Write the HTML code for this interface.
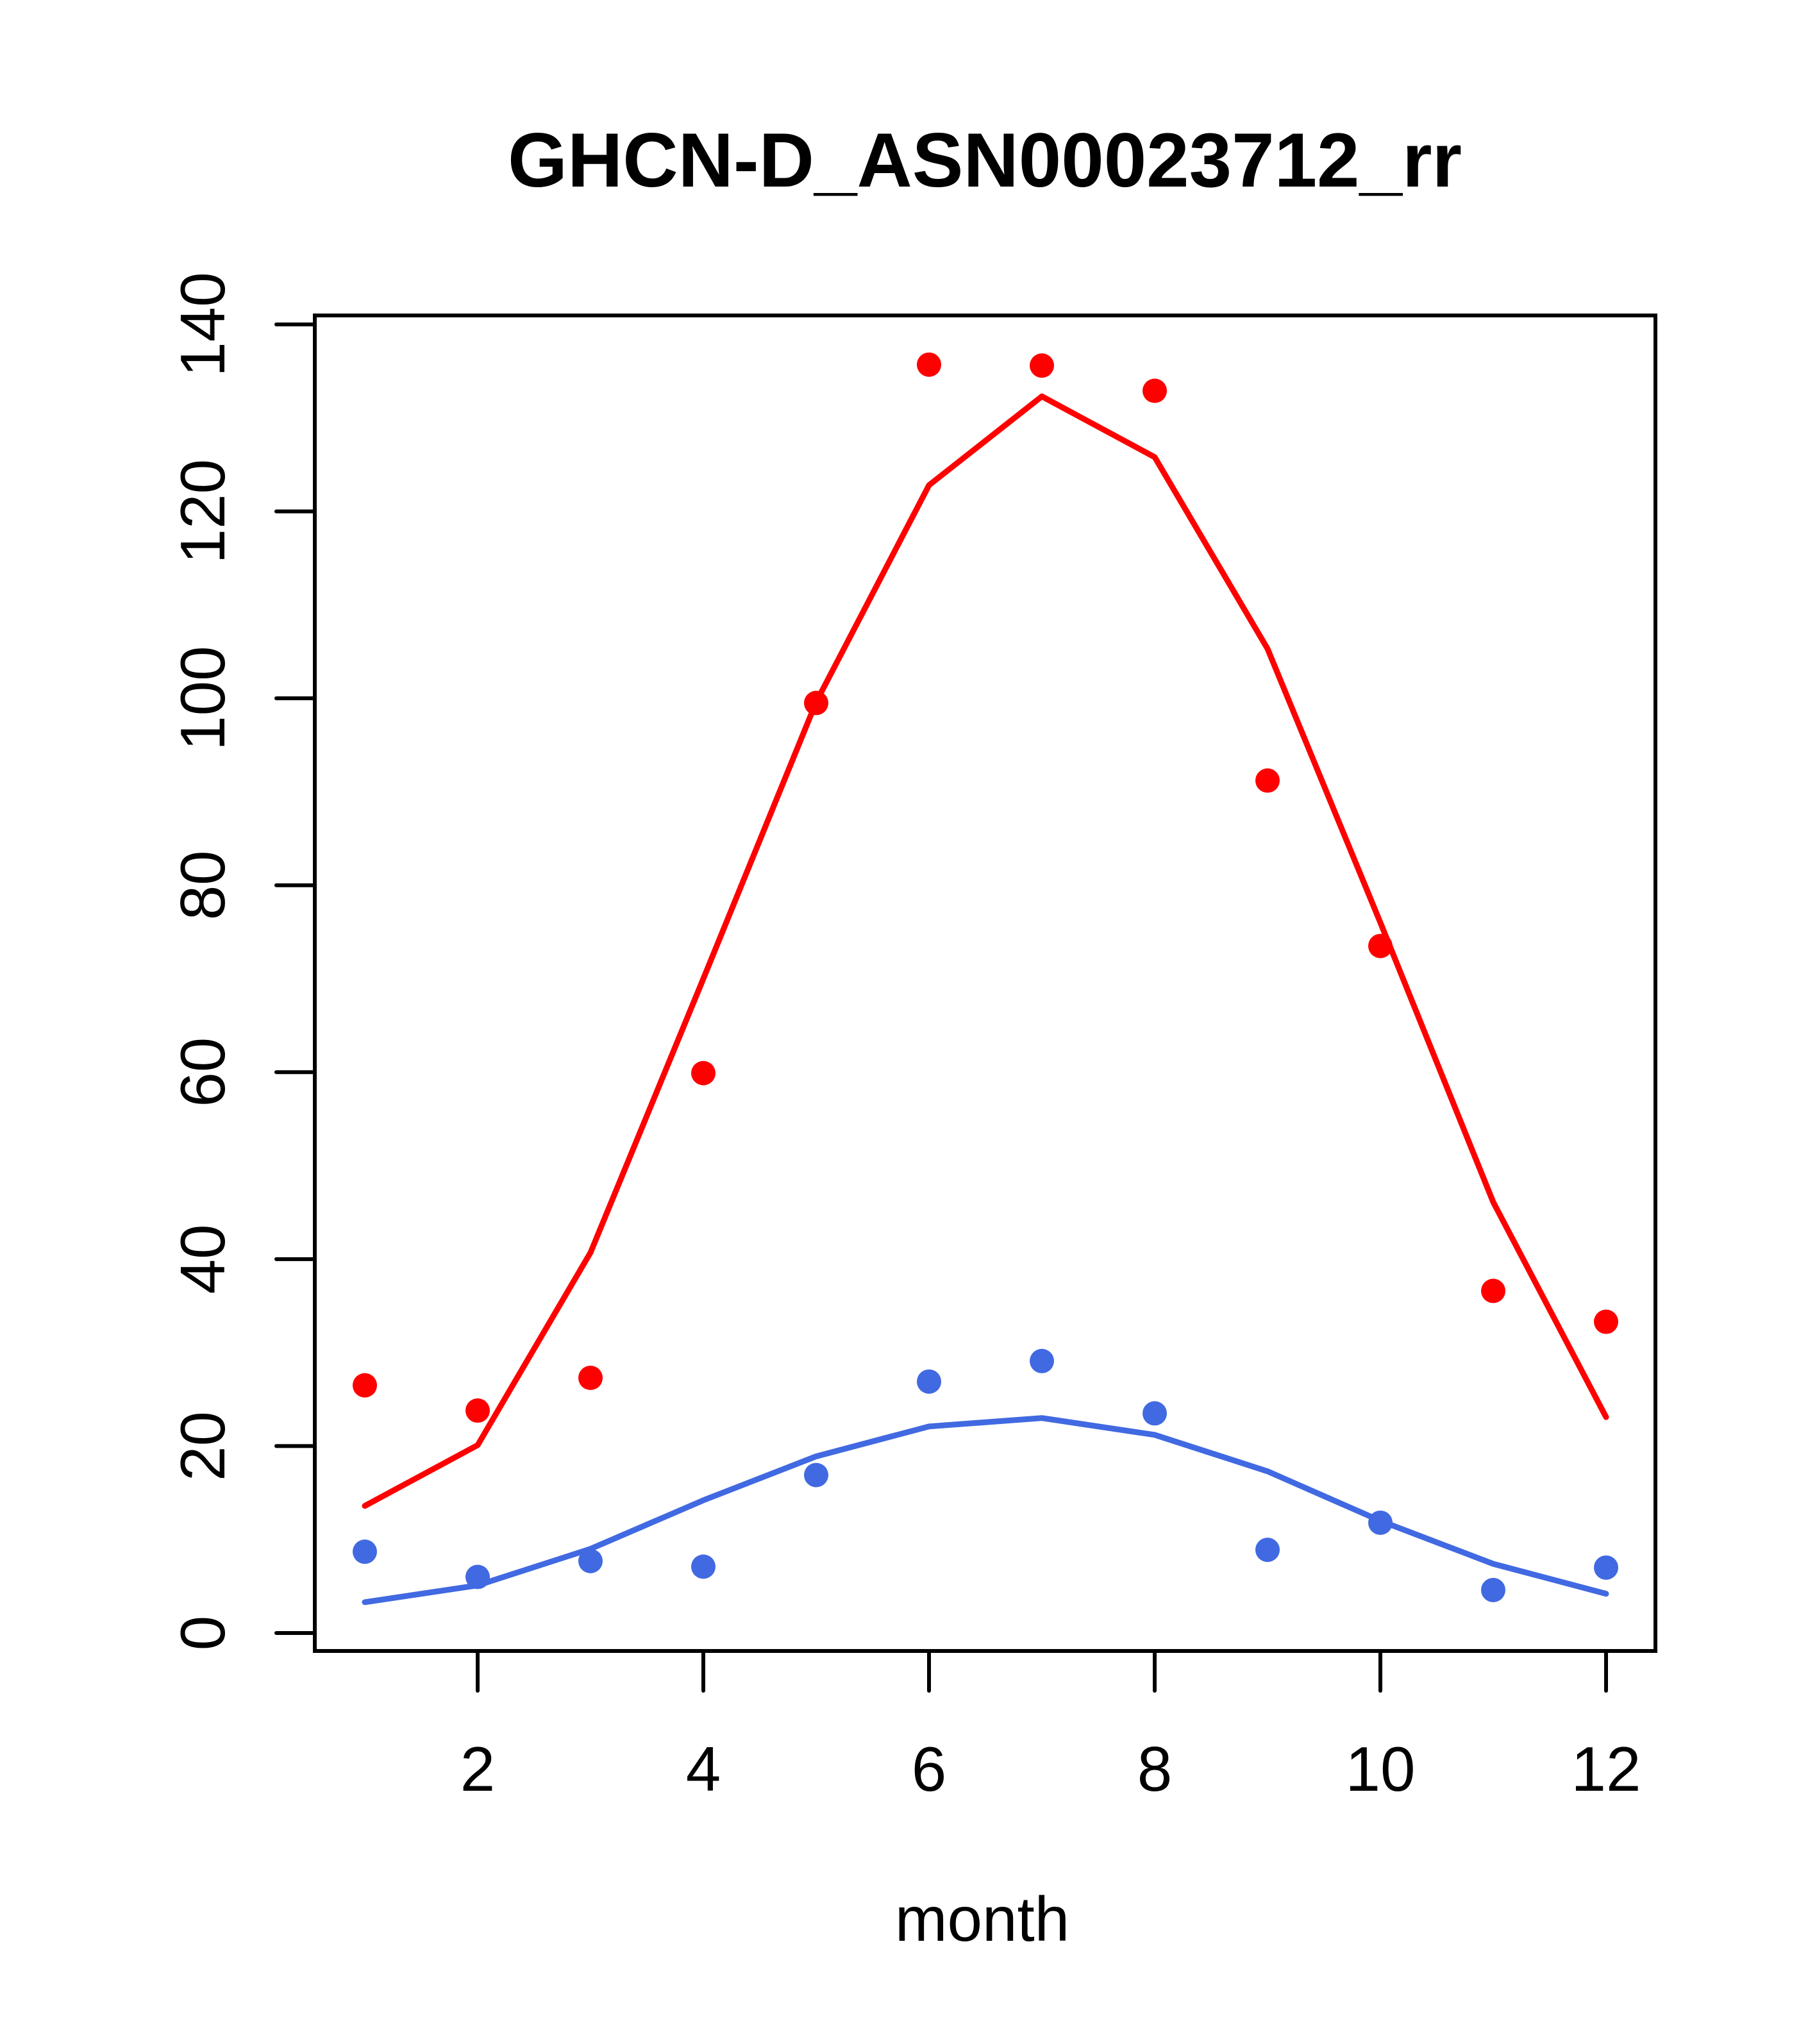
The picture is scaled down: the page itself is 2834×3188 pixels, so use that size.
<!DOCTYPE html>
<html><head><meta charset="utf-8"><style>
html,body{margin:0;padding:0;background:#fff;}
svg{display:block;font-family:"Liberation Sans",Arial,sans-serif;}
</style></head><body>
<svg id="chart" width="2834" height="3188" viewBox="0 0 2834 3188" xmlns="http://www.w3.org/2000/svg">
<rect width="2834" height="3188" fill="#fff"/>
<text x="1536" y="291" font-size="120" font-weight="bold" text-anchor="middle" textLength="1488" lengthAdjust="spacingAndGlyphs">GHCN-D_ASN00023712_rr</text>
<text x="1532" y="3027" font-size="98" text-anchor="middle">month</text>
<rect x="491" y="492" width="2091" height="2083" fill="none" stroke="#000" stroke-width="6"/>
<g id="axes"></g>
<g id="marks"></g>
</svg>
<script>
const months = [1,2,3,4,5,6,7,8,9,10,11,12];
const redPoints = [26.5,23.8,27.3,59.9,99.5,135.7,135.6,132.9,91.2,73.5,36.6,33.3];
const redLine = [13.6,20.1,40.7,70.0,99.6,122.8,132.3,125.8,105.3,76.0,46.1,23.1];
const bluePoints = [8.7,6.0,7.7,7.1,16.9,26.9,29.1,23.5,8.9,11.8,4.6,7.0];
const blueLine = [3.3,5.1,9.0,14.2,18.9,22.1,23.0,21.2,17.3,12.0,7.4,4.2];
const xTicks = [2,4,6,8,10,12];
const yTicks = [0,20,40,60,80,100,120,140];

const NS = "http://www.w3.org/2000/svg";
function xs(m){ return 569 + (m-1)*176; }
function ys(v){ return 2547 - v*(2547-506)/140; }
const axes = document.getElementById('axes');
const marks = document.getElementById('marks');
function mk(tag, attrs, parent){
  const e = document.createElementNS(NS, tag);
  for (const k in attrs) e.setAttribute(k, attrs[k]);
  parent.appendChild(e);
  return e;
}
mk('line',{x1:491,x2:491,y1:ys(0),y2:ys(140),stroke:'#000','stroke-width':6},axes);
yTicks.forEach(t=>{
  const l = mk('line',{x1:431,x2:491,y1:ys(t),y2:ys(t),stroke:'#000','stroke-width':6,'stroke-linecap':'round'},axes);
  
  
  const tx = mk('text',{x:350,y:ys(t),'font-size':98,'text-anchor':'middle',transform:`rotate(-90 350 ${ys(t)})`},axes);
  tx.textContent = t;
  
  
});
mk('line',{x1:xs(2),x2:xs(12),y1:2575,y2:2575,stroke:'#000','stroke-width':6},axes);
xTicks.forEach(t=>{
  const l = mk('line',{x1:xs(t),x2:xs(t),y1:2575,y2:2637,stroke:'#000','stroke-width':6,'stroke-linecap':'round'},axes);
  
  
  const tx = mk('text',{x:xs(t),y:2793,'font-size':98,'text-anchor':'middle'},axes);
  tx.textContent = t;
  
  
});
function drawLine(vals,color,name){
  const p = mk('polyline',{points:vals.map((v,i)=>xs(months[i])+','+ys(v)).join(' '),fill:'none',stroke:color,'stroke-width':9,'stroke-linecap':'round','stroke-linejoin':'round'},marks);
  
  
}
function drawPoints(vals,color,name){
  vals.forEach((v,i)=>{
    const c = mk('circle',{cx:xs(months[i]),cy:ys(v),r:19,fill:color},marks);
    
    
  });
}
drawLine(redLine,'#ff0000','red-line');
drawLine(blueLine,'#4169e1','blue-line');
drawPoints(redPoints,'#ff0000','red-point');
drawPoints(bluePoints,'#4169e1','blue-point');
</script>
</body></html>
